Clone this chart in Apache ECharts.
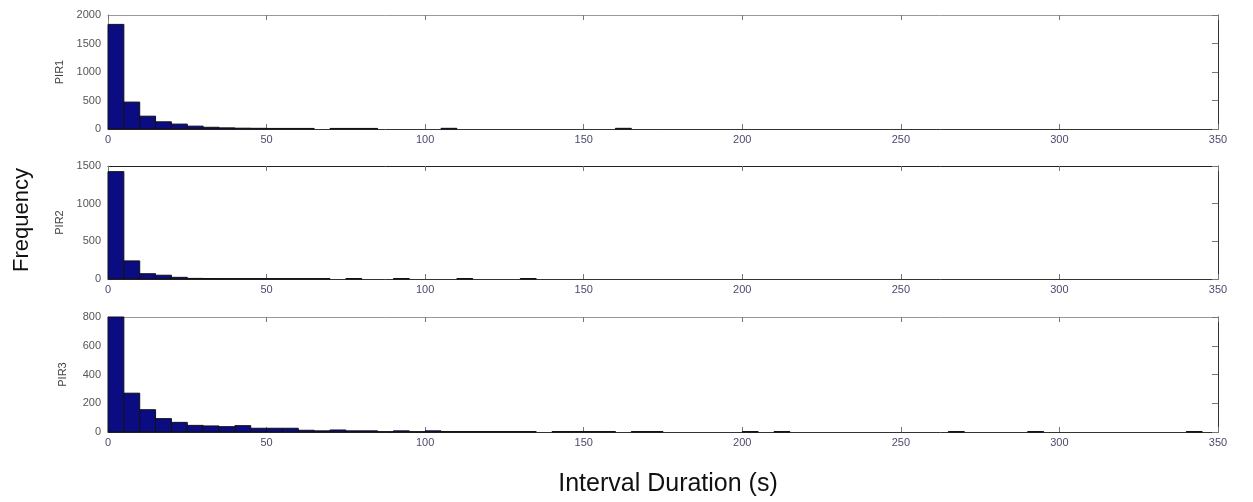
<!DOCTYPE html>
<html>
<head>
    <meta charset="utf-8">
    <title>Interval Duration Histograms</title>
    <script src="https://cdn.jsdelivr.net/npm/echarts@6/dist/echarts.min.js"></script>
    <style>
        body { margin: 0; background: #fff; }
        #main { width: 1253px; height: 502px; }
    </style>
</head>
<body>
<div id="main"></div>
<script type="text/javascript">
// histogram bins, 5 s wide, 0..350
var binWidth = 5;
var binStarts = [];
for (var b = 0; b < 70; b++) binStarts.push(b * binWidth);

var sensors = ['PIR1', 'PIR2', 'PIR3'];
var yMax = [2000, 1500, 800];
var yStep = [500, 500, 200];

var pir1Counts = [1835, 472, 225, 126, 86, 50, 30, 20, 14, 12, 10, 10, 10, 0, 10, 10,
    10, 0, 0, 0, 0, 12, 0, 0, 0, 0, 0, 0, 0, 0, 0, 0, 12, 0, 0, 0, 0, 0, 0, 0,
    0, 0, 0, 0, 0, 0, 0, 0, 0, 0, 0, 0, 0, 0, 0, 0, 0, 0, 0, 0, 0, 0, 0, 0, 0, 0,
    0, 0, 0, 0];
var pir2Counts = [1425, 240, 70, 50, 22, 8, 6, 5, 5, 5, 5, 5, 5, 5, 0, 6,
    0, 0, 6, 0, 0, 0, 6, 0, 0, 0, 6, 0, 0, 0, 0, 0, 0, 0, 0, 0, 0, 0, 0, 0,
    0, 0, 0, 0, 0, 0, 0, 0, 0, 0, 0, 0, 0, 0, 0, 0, 0, 0, 0, 0, 0, 0, 0, 0, 0, 0,
    0, 0, 0, 0];
var pir3Counts = [800, 270, 155, 93, 67, 46, 42, 37, 44, 26, 26, 26, 12, 8, 14, 8,
    8, 2, 8, 2, 8, 3, 3, 3, 3, 3, 3, 0, 3, 3, 3, 3, 0, 3, 3, 0, 0, 0, 0, 0,
    3, 0, 3, 0, 0, 0, 0, 0, 0, 0, 0, 0, 0, 3, 0, 0, 0, 0, 3, 0, 0, 0, 0, 0, 0, 0,
    0, 0, 3, 0];
var allCounts = [pir1Counts, pir2Counts, pir3Counts];

var grids = [
    {left: 108, right: 35, top: 15, height: 114},
    {left: 108, right: 35, top: 166, height: 113},
    {left: 108, right: 35, top: 317, height: 115}
];

var xAxes = [], yAxes = [], series = [];
var labelFont = '"Liberation Sans", Arial';

sensors.forEach(function (name, i) {
    // bottom and top frame of each panel
    xAxes.push({
        type: 'value', gridIndex: i, min: 0, max: 350, interval: 50, position: 'bottom',
        axisLine: {onZero: false, lineStyle: {color: '#333', width: 1}},
        axisTick: {inside: true, length: 5, lineStyle: {color: '#777'}},
        axisLabel: {color: '#4a4a6e', fontSize: 11, fontFamily: labelFont, margin: 5},
        splitLine: {show: false}
    });
    xAxes.push({
        type: 'value', gridIndex: i, min: 0, max: 350, interval: 50, position: 'top',
        axisLine: {onZero: false, lineStyle: {color: i == 1 ? '#222' : '#999', width: 1}},
        axisTick: {inside: true, length: 5, lineStyle: {color: '#777'}},
        axisLabel: {show: false},
        splitLine: {show: false}
    });
    // left and right frame
    yAxes.push({
        type: 'value', gridIndex: i, min: 0, max: yMax[i], interval: yStep[i], position: 'left',
        name: name, nameLocation: 'middle', nameGap: 40, nameRotate: 90,
        nameTextStyle: {color: '#444', fontSize: 11, fontFamily: labelFont},
        axisLine: {show: true, onZero: false, lineStyle: {color: '#999', width: 1}},
        axisTick: {show: false},
        axisLabel: {color: '#555', fontSize: 11, fontFamily: labelFont, margin: 7,
            formatter: function (v) { return String(v); }},
        splitLine: {show: false}
    });
    yAxes.push({
        type: 'value', gridIndex: i, min: 0, max: yMax[i], interval: yStep[i], position: 'right',
        axisLine: {show: true, onZero: false, lineStyle: {color: '#333', width: 1}},
        axisTick: {show: true, inside: true, length: 6, lineStyle: {color: '#777'}},
        axisLabel: {show: false},
        splitLine: {show: false}
    });

    var data = [];
    allCounts[i].forEach(function (c, k) {
        if (c > 0) data.push([binStarts[k], binStarts[k] + binWidth, c]);
    });

    series.push({
        type: 'custom',
        name: name,
        xAxisIndex: i * 2,
        yAxisIndex: i * 2,
        data: data,
        renderItem: function (params, api) {
            var p0 = api.coord([api.value(0), 0]);
            var p1 = api.coord([api.value(1), api.value(2)]);
            return {
                type: 'rect',
                shape: {x: p0[0], y: p1[1], width: p1[0] - p0[0], height: p0[1] - p1[1]},
                style: {fill: '#0b0c82', stroke: '#111', lineWidth: 1}
            };
        }
    });
});

var myChart = echarts.init(document.getElementById('main'));
var option = {
    backgroundColor: '#fff',
    animation: false,
    grid: grids,
    xAxis: xAxes,
    yAxis: yAxes,
    series: series,
    graphic: [
        {
            type: 'text', x: 22, y: 220, rotation: Math.PI / 2,
            style: {text: 'Frequency', fill: '#111', font: '22px "Liberation Sans", Arial',
                textAlign: 'center', textVerticalAlign: 'middle'}
        },
        {
            type: 'text', x: 668, y: 484,
            style: {text: 'Interval Duration (s)', fill: '#111', font: '25px "Liberation Sans", Arial',
                textAlign: 'center', textVerticalAlign: 'middle'}
        }
    ]
};
myChart.setOption(option);
</script>
</body>
</html>
